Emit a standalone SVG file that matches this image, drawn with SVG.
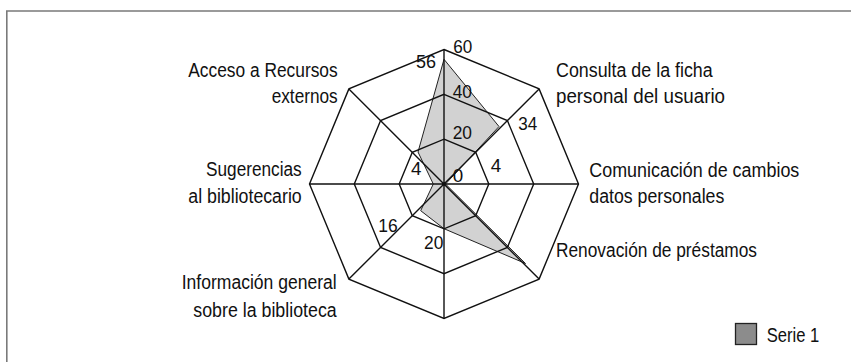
<svg xmlns="http://www.w3.org/2000/svg" width="851" height="362" viewBox="0 0 851 362">
<style>
  text { font-family: "Liberation Sans", Arial, sans-serif; font-size: 19.5px; fill: #111; }
  .num { font-size: 18.8px; }
  .grid { fill: none; stroke: #111; stroke-width: 1.4; }
  .frame { fill: none; stroke: #7a7a7a; stroke-width: 1.6; }
</style>
<rect width="851" height="362" fill="#fff"/>
<path class="frame" d="M6.8,362 V11 H851"/>
<g id="series">
  <polygon points="444,59.3 499,126.5 445.5,184 525.5,263.5 444,228.7 420.7,210.7 433.3,184 418,152" fill="#d2d2d2" stroke="#222" stroke-width="1"/>
</g>
<g id="grid">
  <polygon class="grid" points="444,49.5 539.1,88.9 578.5,184 539.1,279.1 444,318.5 348.9,279.1 309.5,184 348.9,88.9"/>
  <polygon class="grid" points="444,94.3 507.4,120.6 533.7,184 507.4,247.4 444,273.7 380.6,247.4 354.3,184 380.6,120.6"/>
  <polygon class="grid" points="444,139.2 475.7,152.3 488.8,184 475.7,215.7 444,228.8 412.3,215.7 399.2,184 412.3,152.3"/>
  <path class="grid" d="M444,49.5 V318.5 M309.5,184 H578.5 M348.9,88.9 L539.1,279.1 M539.1,88.9 L348.9,279.1"/>
</g>
<g id="values">
  <text class="num" x="453.3" y="53.3" textLength="19" lengthAdjust="spacingAndGlyphs">60</text>
  <text class="num" x="416" y="67.7" textLength="20" lengthAdjust="spacingAndGlyphs">56</text>
  <text class="num" x="452.7" y="97.7" textLength="19.3" lengthAdjust="spacingAndGlyphs">40</text>
  <text class="num" x="452.7" y="139.3" textLength="19.3" lengthAdjust="spacingAndGlyphs">20</text>
  <text class="num" x="518.3" y="130" textLength="19" lengthAdjust="spacingAndGlyphs">34</text>
  <text class="num" x="490.7" y="172.3">4</text>
  <text class="num" x="452.7" y="181.7">0</text>
  <text class="num" x="411" y="175">4</text>
  <text class="num" x="378.3" y="232.3" textLength="19.4" lengthAdjust="spacingAndGlyphs">16</text>
  <text class="num" x="424" y="249.3" textLength="19.3" lengthAdjust="spacingAndGlyphs">20</text>
</g>
<g id="labels">
  <text x="188.3" y="76.7" textLength="149.4" lengthAdjust="spacingAndGlyphs">Acceso a Recursos</text>
  <text x="271.7" y="103.3" textLength="66" lengthAdjust="spacingAndGlyphs">externos</text>
  <text x="206" y="176" textLength="95.7" lengthAdjust="spacingAndGlyphs">Sugerencias</text>
  <text x="188.3" y="202.7" textLength="113.4" lengthAdjust="spacingAndGlyphs">al bibliotecario</text>
  <text x="181.7" y="289.3" textLength="155" lengthAdjust="spacingAndGlyphs">Información general</text>
  <text x="193.3" y="316.7" textLength="143.4" lengthAdjust="spacingAndGlyphs">sobre la biblioteca</text>
  <text x="556" y="76.7" textLength="156.7" lengthAdjust="spacingAndGlyphs">Consulta de la ficha</text>
  <text x="556" y="103.3" textLength="169" lengthAdjust="spacingAndGlyphs">personal del usuario</text>
  <text x="589.3" y="176.5" textLength="210" lengthAdjust="spacingAndGlyphs">Comunicación de cambios</text>
  <text x="589.3" y="203" textLength="135" lengthAdjust="spacingAndGlyphs">datos personales</text>
  <text x="556" y="257" textLength="201" lengthAdjust="spacingAndGlyphs">Renovación de préstamos</text>
</g>
<g id="legend">
  <rect x="735.5" y="323.5" width="21" height="21" fill="#8c8c8c" stroke="#222" stroke-width="1.3"/>
  <text x="766.7" y="341.7" textLength="52.6" lengthAdjust="spacingAndGlyphs">Serie 1</text>
</g>
</svg>
